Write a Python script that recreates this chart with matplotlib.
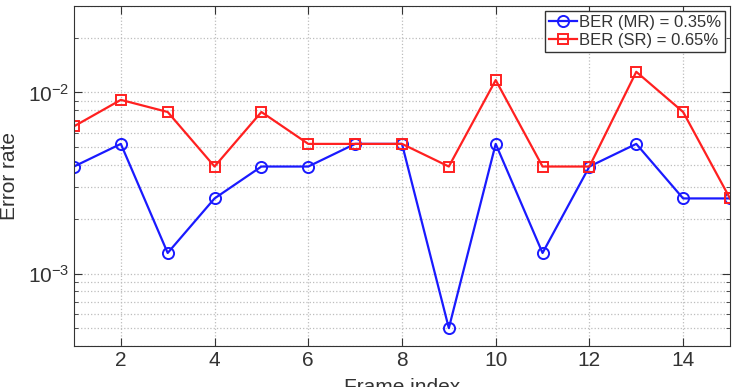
import numpy as np
import matplotlib
matplotlib.use('Agg')
import matplotlib.pyplot as plt
from matplotlib.ticker import LogLocator, NullFormatter

plt.rcParams['font.family'] = ['Liberation Sans', 'DejaVu Sans']

# datos
frames = list(range(1, 16))
ber_mr = [0.0039, 0.0052, 0.0013, 0.0026, 0.0039, 0.0039, 0.0052, 0.0052,
          0.0005, 0.0052, 0.0013, 0.0039, 0.0052, 0.0026, 0.0026]
ber_sr = [0.0065, 0.0091, 0.0078, 0.0039, 0.0078, 0.0052, 0.0052, 0.0052,
          0.0039, 0.0117, 0.0039, 0.0039, 0.0130, 0.0078, 0.0026]
etiquetas = ['BER (MR) = 0.35%', 'BER (SR) = 0.65%']

fig = plt.figure(figsize=(7.39, 3.87), dpi=100)
ax = fig.add_axes([0.1001, 0.1067, 0.8877, 0.8778])

ax.semilogy(frames, ber_mr, '-o', color='#1a1aff', lw=1.6, ms=8,
            mfc='none', mew=1.4, label=etiquetas[0])
ax.semilogy(frames, ber_sr, '-s', color='#ff2020', lw=1.6, ms=7,
            mfc='none', mew=1.4, label=etiquetas[1])

ax.set_xlim(1, 15)
ax.set_ylim(4e-4, 3e-2)
ax.set_xticks([2, 4, 6, 8, 10, 12, 14])
ax.yaxis.set_major_locator(LogLocator(base=10, numticks=10))
ax.yaxis.set_minor_locator(LogLocator(base=10, subs=np.arange(2, 10), numticks=20))
ax.yaxis.set_minor_formatter(NullFormatter())

ax.grid(True, which='major', linestyle=':', color='#bdbdbd', lw=0.9)
ax.grid(True, which='minor', axis='y', linestyle=':', color='#bdbdbd', lw=0.9)
ax.tick_params(which='both', direction='in', top=True, right=True, labelsize=15, colors='#333333')
ax.tick_params(which='major', length=6)
ax.tick_params(which='minor', length=3)
for s in ax.spines.values():
    s.set_color('#333333')

ax.set_xlabel('Frame index', fontsize=15, color='#333333', labelpad=6)
ax.set_ylabel('Error rate', fontsize=15, color='#333333', labelpad=6)

leg = ax.legend(loc='upper right', fontsize=12, handlelength=1.7, handletextpad=0.1,
                borderpad=0.25, labelspacing=0.15, borderaxespad=0.3, fancybox=False,
                framealpha=1)
leg.get_frame().set_edgecolor('#333333')
for t in leg.get_texts():
    t.set_color('#333333')

fig.savefig('out.png', dpi=100)
